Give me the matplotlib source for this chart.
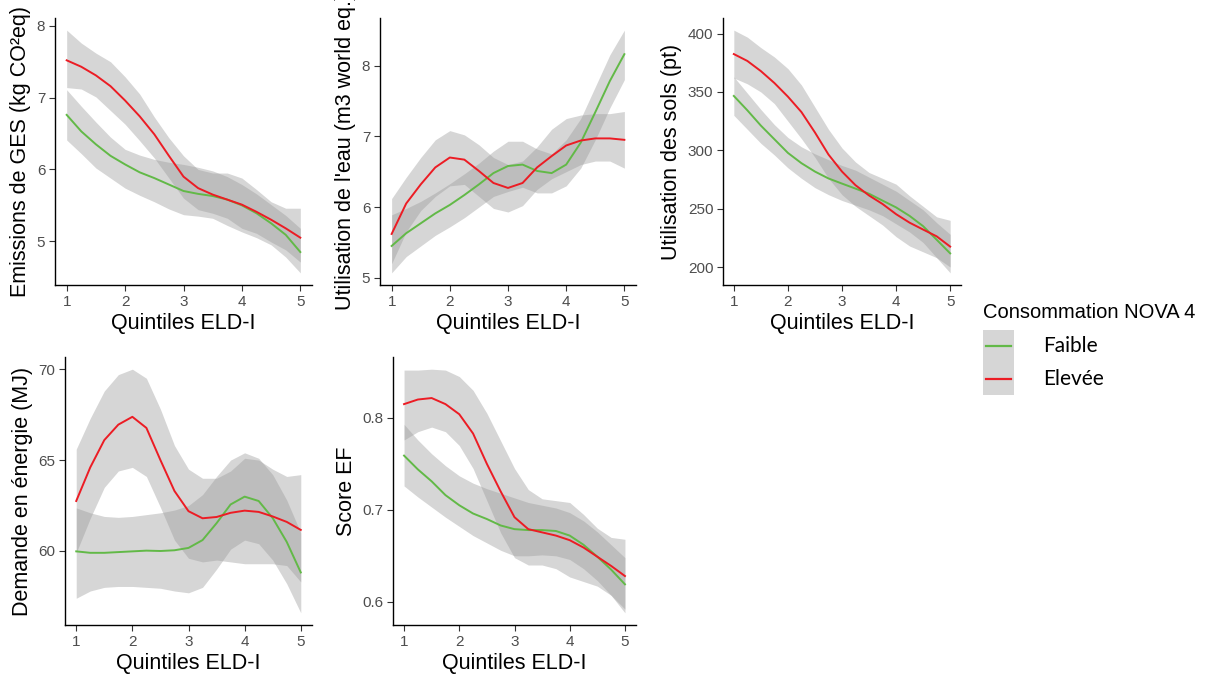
import matplotlib
matplotlib.use('agg')
import matplotlib.pyplot as plt
from matplotlib.lines import Line2D
from matplotlib.patches import Rectangle
from matplotlib.ticker import MultipleLocator

plt.rcParams['font.family'] = ['Liberation Sans', 'DejaVu Sans']

# quintile grid where the smoothed curves were sampled
quintiles = [1, 1.25, 1.5, 1.75, 2, 2.25, 2.5, 2.75, 3, 3.25, 3.5, 3.75, 4, 4.25, 4.5, 4.75, 5]

# GES emissions (kg CO2eq)
ges_faible = [6.76, 6.53, 6.35, 6.19, 6.07, 5.96, 5.88, 5.79, 5.70, 5.66, 5.63, 5.58, 5.50, 5.39, 5.25, 5.09, 4.85]
ges_faible_lo = [6.41, 6.22, 6.02, 5.88, 5.74, 5.64, 5.55, 5.45, 5.37, 5.35, 5.32, 5.22, 5.13, 5.05, 4.95, 4.78, 4.56]
ges_faible_hi = [7.11, 6.88, 6.66, 6.45, 6.28, 6.20, 6.14, 6.10, 6.07, 6.03, 5.98, 5.90, 5.79, 5.66, 5.51, 5.36, 5.18]
ges_elevee = [7.52, 7.43, 7.31, 7.16, 6.96, 6.74, 6.49, 6.19, 5.90, 5.74, 5.65, 5.58, 5.51, 5.41, 5.30, 5.18, 5.05]
ges_elevee_lo = [7.14, 7.12, 7.01, 6.82, 6.63, 6.40, 6.16, 5.88, 5.60, 5.44, 5.39, 5.32, 5.18, 5.11, 4.99, 4.88, 4.71]
ges_elevee_hi = [7.94, 7.76, 7.62, 7.50, 7.29, 7.05, 6.73, 6.44, 6.19, 6.00, 5.95, 5.95, 5.88, 5.72, 5.55, 5.46, 5.46]

# water use (m3 world eq.)
eau_faible = [5.45, 5.63, 5.77, 5.91, 6.03, 6.17, 6.32, 6.48, 6.58, 6.60, 6.51, 6.48, 6.60, 6.91, 7.34, 7.78, 8.16]
eau_faible_lo = [5.07, 5.30, 5.45, 5.60, 5.72, 5.85, 6.00, 6.15, 6.22, 6.28, 6.20, 6.20, 6.30, 6.55, 6.95, 7.40, 7.80]
eau_faible_hi = [5.89, 5.98, 6.08, 6.20, 6.33, 6.47, 6.62, 6.79, 6.93, 6.93, 6.82, 6.75, 6.95, 7.25, 7.70, 8.15, 8.50]
eau_elevee = [5.62, 6.05, 6.32, 6.56, 6.70, 6.67, 6.51, 6.34, 6.27, 6.34, 6.56, 6.72, 6.87, 6.94, 6.97, 6.97, 6.95]
eau_elevee_lo = [5.20, 5.65, 5.95, 6.15, 6.30, 6.32, 6.15, 5.98, 5.93, 6.02, 6.25, 6.40, 6.50, 6.60, 6.65, 6.65, 6.55]
eau_elevee_hi = [6.12, 6.42, 6.70, 6.95, 7.08, 7.02, 6.88, 6.70, 6.60, 6.65, 6.85, 7.10, 7.25, 7.30, 7.32, 7.32, 7.35]

# land use (pt)
sols_faible = [346.6, 334.3, 321.2, 309.5, 297.8, 289.0, 281.8, 275.9, 271.5, 267.2, 262.8, 256.9, 251.1, 243.8, 235.0, 223.4, 211.7]
sols_faible_lo = [330, 318, 306, 296, 285, 276, 268, 262, 257, 253, 249, 244, 237, 230, 221, 208, 195]
sols_faible_hi = [363, 349, 335, 322, 311, 303, 297, 292, 287, 283, 277, 271, 265, 257, 249, 238, 228]
sols_elevee = [382.5, 376.6, 367.9, 357.7, 346.0, 332.8, 315.3, 296.4, 281.8, 270.1, 261.3, 254.0, 245.3, 238.0, 232.1, 226.3, 217.5]
sols_elevee_lo = [362, 357, 350, 340, 325, 310, 294, 276, 262, 252, 244, 236, 226, 218, 213, 208, 200]
sols_elevee_hi = [403, 397, 388, 380, 370, 356, 337, 318, 302, 290, 281, 276, 271, 261, 252, 243, 240]

# energy demand (MJ)
nrj_faible = [59.98, 59.90, 59.90, 59.94, 59.98, 60.02, 60.00, 60.04, 60.17, 60.60, 61.53, 62.56, 62.99, 62.75, 61.81, 60.50, 58.82]
nrj_faible_lo = [57.4, 57.8, 58.0, 58.05, 58.05, 58.0, 57.95, 57.8, 57.7, 58.0, 59.0, 60.1, 60.6, 60.4, 59.5, 58.2, 56.6]
nrj_faible_hi = [62.37, 62.1, 61.9, 61.85, 61.9, 62.0, 62.1, 62.25, 62.5, 63.1, 64.1, 65.0, 65.4, 65.1, 64.2, 62.8, 61.0]
nrj_elevee = [62.75, 64.6, 66.1, 66.95, 67.38, 66.77, 65.0, 63.3, 62.19, 61.8, 61.87, 62.1, 62.22, 62.15, 61.9, 61.6, 61.16]
nrj_elevee_lo = [59.9, 61.8, 63.5, 64.4, 64.6, 64.1, 62.4, 60.6, 59.6, 59.4, 59.5, 59.4, 59.3, 59.3, 59.3, 59.2, 58.3]
nrj_elevee_hi = [65.6, 67.3, 68.8, 69.7, 70.0, 69.5, 67.8, 65.8, 64.5, 64.0, 64.0, 64.4, 65.1, 65.0, 64.5, 64.1, 64.2]

# EF score
ef_faible = [0.759, 0.744, 0.731, 0.716, 0.705, 0.696, 0.690, 0.683, 0.679, 0.678, 0.678, 0.677, 0.672, 0.662, 0.649, 0.635, 0.619]
ef_faible_lo = [0.726, 0.714, 0.703, 0.692, 0.682, 0.672, 0.664, 0.656, 0.650, 0.650, 0.651, 0.650, 0.646, 0.636, 0.623, 0.607, 0.588]
ef_faible_hi = [0.793, 0.776, 0.761, 0.748, 0.737, 0.729, 0.723, 0.718, 0.713, 0.708, 0.705, 0.702, 0.697, 0.688, 0.676, 0.662, 0.648]
ef_elevee = [0.815, 0.820, 0.8216, 0.815, 0.804, 0.783, 0.750, 0.720, 0.692, 0.679, 0.6755, 0.672, 0.667, 0.659, 0.649, 0.639, 0.628]
ef_elevee_lo = [0.776, 0.785, 0.790, 0.785, 0.770, 0.745, 0.710, 0.675, 0.648, 0.640, 0.640, 0.636, 0.627, 0.622, 0.617, 0.607, 0.592]
ef_elevee_hi = [0.852, 0.852, 0.853, 0.852, 0.845, 0.830, 0.805, 0.775, 0.745, 0.722, 0.712, 0.710, 0.708, 0.695, 0.680, 0.670, 0.668]

legend_title = "Consommation NOVA 4"
legend_labels = ["Faible", "Elevée"]
x_label = "Quintiles ELD-I"

GREEN = '#62b947'
RED = '#ec1c24'
BAND = '#999999'
TICK_GREY = '#4d4d4d'

W, H = 1210, 681
fig = plt.figure(figsize=(W / 100, H / 100), dpi=100)


def px_box(left, top, right, bottom):
    return [left / W, 1 - bottom / H, (right - left) / W, (bottom - top) / H]


panels = [
    (px_box(55, 18, 312, 285), "Emissions de GES (kg CO²eq)", 1,
     (ges_faible, ges_faible_lo, ges_faible_hi), (ges_elevee, ges_elevee_lo, ges_elevee_hi)),
    (px_box(380, 18, 636, 285), "Utilisation de l'eau (m3 world eq.)", 1,
     (eau_faible, eau_faible_lo, eau_faible_hi), (eau_elevee, eau_elevee_lo, eau_elevee_hi)),
    (px_box(723, 18, 961, 285), "Utilisation des sols (pt)", 50,
     (sols_faible, sols_faible_lo, sols_faible_hi), (sols_elevee, sols_elevee_lo, sols_elevee_hi)),
    (px_box(65, 357, 312, 625), "Demande en énergie (MJ)", 5,
     (nrj_faible, nrj_faible_lo, nrj_faible_hi), (nrj_elevee, nrj_elevee_lo, nrj_elevee_hi)),
    (px_box(393, 357, 636, 625), "Score EF", 0.1,
     (ef_faible, ef_faible_lo, ef_faible_hi), (ef_elevee, ef_elevee_lo, ef_elevee_hi)),
]

for rect, ylabel, step, faible, elevee in panels:
    ax = fig.add_axes(rect)
    for (mid, lo, hi), color in [(faible, GREEN), (elevee, RED)]:
        ax.fill_between(quintiles, lo, hi, color=BAND, alpha=0.4, linewidth=0)
    for (mid, lo, hi), color in [(faible, GREEN), (elevee, RED)]:
        ax.plot(quintiles, mid, color=color, linewidth=1.4)
    ax.margins(x=0.05, y=0.05)
    ax.xaxis.set_major_locator(MultipleLocator(1))
    ax.yaxis.set_major_locator(MultipleLocator(step))
    for side in ['top', 'right']:
        ax.spines[side].set_visible(False)
    for side in ['left', 'bottom']:
        ax.spines[side].set_linewidth(1.0)
    ax.tick_params(axis='both', length=4, width=0.8, color='#333333',
                   labelcolor=TICK_GREY, labelsize=11, pad=3)
    ax.set_xlabel(x_label, fontsize=15.5, labelpad=3)
    ax.set_ylabel(ylabel, fontsize=15.5, labelpad=4)

# legend drawn by hand: grey key column with the two line swatches
fig.text(983 / W, 1 - 312 / H, legend_title, fontsize=14.5, va='center', ha='left')
fig.add_artist(Rectangle((983 / W, 1 - 395 / H), 31 / W, 65 / H,
                         transform=fig.transFigure, facecolor='#d6d6d6', edgecolor='none'))
for y_px, color, label in [(346, GREEN, legend_labels[0]), (379, RED, legend_labels[1])]:
    fig.add_artist(Line2D([986 / W, 1011 / W], [1 - y_px / H, 1 - y_px / H],
                          transform=fig.transFigure, color=color, linewidth=1.6))
    fig.text(1043 / W, 1 - y_px / H, label, fontsize=15, va='center', ha='left',
             family=['Lato', 'DejaVu Sans'])

fig.savefig('out.png', dpi=100)
